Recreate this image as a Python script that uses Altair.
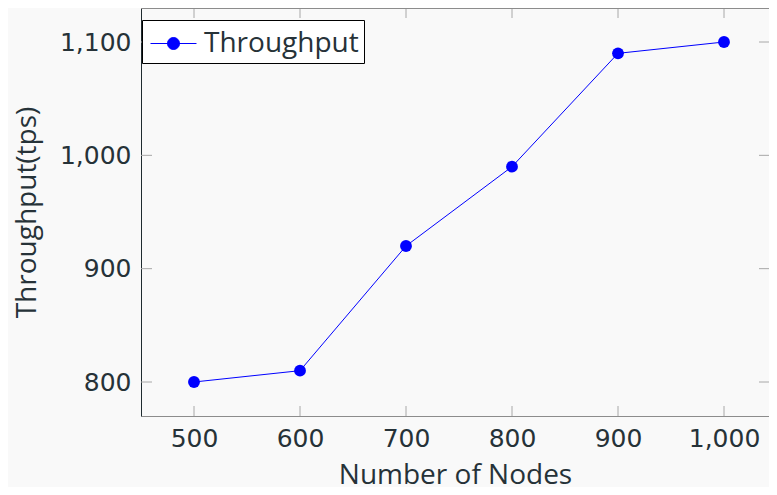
import altair as alt
import pandas as pd

nodes = [500, 600, 700, 800, 900, 1000]
throughput = [800, 810, 920, 990, 1090, 1100]
series = ["Throughput"] * len(nodes)
y_ticks = [800, 900, 1000, 1100]

W, H = 628, 408
TEXT = "#263238"
FONT = "Open Sans"
TICKFONT = "DejaVu Sans"

df = pd.DataFrame({"nodes": nodes, "tps": throughput, "series": series})
xt = pd.DataFrame({"v": nodes})
yt = pd.DataFrame({"v": y_ticks})

xs = alt.Scale(domain=[450, 1042.45], nice=False, zero=False)
ys = alt.Scale(domain=[770, 1130], nice=False, zero=False)

# unit = 18px (symbolSize 36^2); line from -15px to +31px, dot at +8px radius 6px
legend_path = ("M-0.833,0H1.722M0.778,0A0.333,0.333,0,1,1,0.111,0"
               "A0.333,0.333,0,1,1,0.778,0Z")

line = alt.Chart(df).mark_line(
    point=alt.OverlayMarkDef(filled=True, size=140, opacity=1),
    strokeWidth=1,
).encode(
    x=alt.X("nodes:Q", scale=xs,
            axis=alt.Axis(values=nodes, format=",d", title="Number of Nodes",
                          ticks=False, grid=False, domainColor="#8c8c8c",
                          labelPadding=10, titleBaseline="alphabetic", titleY=67)),
    y=alt.Y("tps:Q", scale=ys,
            axis=alt.Axis(values=y_ticks, format=",d", title="Throughput(tps)",
                          ticks=False, grid=False, domainColor="#1f2b2f",
                          labelPadding=10, titleBaseline="alphabetic", titleX=-106)),
    color=alt.Color("series:N",
                    scale=alt.Scale(domain=["Throughput"], range=["#0000ff"]),
                    legend=alt.Legend(title=None, orient="none", legendX=1, legendY=12,
                                      fillColor="white", strokeColor="black",
                                      padding=5, symbolType=legend_path,
                                      symbolSize=1296, symbolStrokeWidth=1,
                                      symbolFillColor="#0000ff",
                                      labelFontSize=28, labelColor=TEXT,
                                      labelFont=FONT, labelOffset=20)),
)

tick_color = "#a8a8a8"
xb = alt.Chart(xt).mark_rule(color=tick_color, strokeWidth=1).encode(
    x=alt.X("v:Q", scale=xs), y=alt.value(H - 10), y2=alt.value(H))
xtop = alt.Chart(xt).mark_rule(color=tick_color, strokeWidth=1).encode(
    x=alt.X("v:Q", scale=xs), y=alt.value(0), y2=alt.value(10))
yl = alt.Chart(yt).mark_rule(color=tick_color, strokeWidth=1).encode(
    y=alt.Y("v:Q", scale=ys), x=alt.value(0), x2=alt.value(11))
yr = alt.Chart(yt).mark_rule(color=tick_color, strokeWidth=1).encode(
    y=alt.Y("v:Q", scale=ys), x=alt.value(W - 10), x2=alt.value(W))
top_border = alt.Chart(xt).mark_rule(color="#8c8c8c", strokeWidth=1).encode(
    x=alt.value(0), x2=alt.value(W), y=alt.value(0.5))

chart = alt.layer(xb, xtop, yl, yr, top_border, line).properties(
    width=W, height=H,
    autosize=alt.AutoSizeParams(type="none"),
    padding={"left": 133, "top": 0, "right": 0, "bottom": 71},
    background="#f9f9f9",
).configure_view(
    strokeWidth=0, fill="#f9f9f9"
).configure_axis(
    labelFont=TICKFONT, labelFontSize=25, labelColor=TEXT,
    titleFont=FONT, titleFontSize=28, titleColor=TEXT, titleFontWeight="normal",
)

chart.save("out.html", embed_options={"renderer": "svg", "actions": False})
